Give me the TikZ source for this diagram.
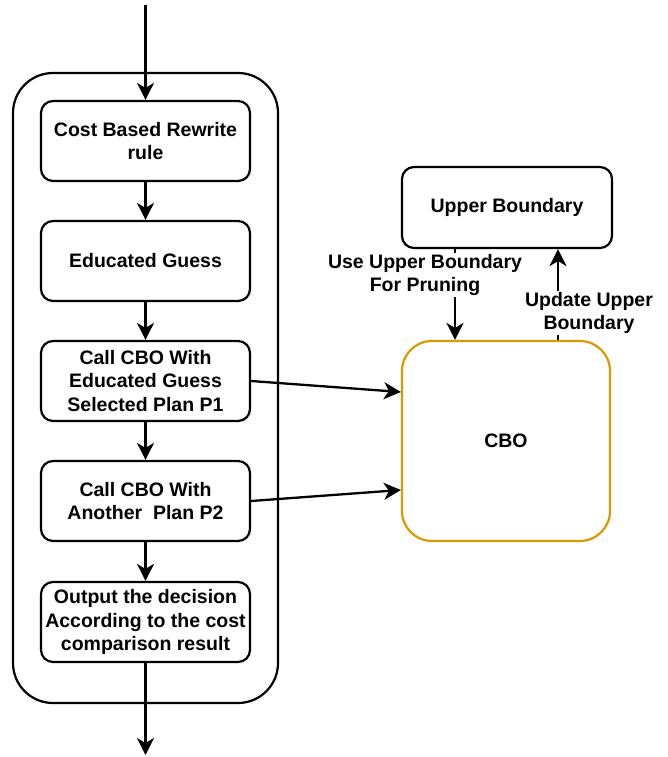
\documentclass[tikz,border=0pt]{standalone}
\usepackage{fontspec}
\setmainfont{Liberation Sans}
\usetikzlibrary{arrows.meta}
\definecolor{gold}{HTML}{D79B00}
\tikzset{
  box/.style={draw, line width=2.2pt, rounded corners=12pt, minimum width=209pt, minimum height=80pt, inner sep=0pt, align=center, font=\bfseries\fontsize{19.5}{23.5}\selectfont},
  lbl/.style={fill=white, inner sep=1pt, align=center, font=\bfseries\fontsize{19.5}{23.5}\selectfont},
  arr/.style={line width=2.3pt, -{Stealth[length=17pt,width=17pt,inset=5pt]}}
}
\begin{document}
\begin{tikzpicture}[x=1pt,y=-1pt]
\useasboundingbox (0,0) rectangle (667,757);
\node[draw, line width=2.2pt, rounded corners=40pt, minimum width=265pt, minimum height=630pt, inner sep=0pt] (grp) at (145.5,388) {};
\coordinate (top) at (145.5,5);
\coordinate (bot) at (145.5,755);
\node[box] (b1) at (145.5,141) {Cost Based Rewrite\\rule};
\node[box] (b2) at (145.5,261) {Educated Guess};
\node[box] (b3) at (145.5,381) {Call CBO With\\Educated Guess\\Selected Plan P1};
\node[box] (b4) at (145.5,501) {Call CBO With\\Another\ \ Plan P2};
\node[box] (b5) at (145.5,622) {Output the decision\\According to the cost\\comparison result};
\node[box, minimum width=210pt, minimum height=81pt] (ub) at (507,207.5) {Upper Boundary};
\node[box, draw=gold, rounded corners=30pt, minimum width=208pt, minimum height=200pt] (cbo) at (506,441) {CBO};
\draw[arr] (top) -- (b1);
\draw[arr] (b1) -- (b2);
\draw[arr] (b2) -- (b3);
\draw[arr] (b3) -- (b4);
\draw[arr] (b4) -- (b5);
\draw[arr] (b5) -- (bot);
\draw[arr] (b3.east) -- ([yshift=49pt]cbo.west);
\draw[arr] (b4.east) -- ([yshift=-49pt]cbo.west);
\draw[arr] ([xshift=-52pt]ub.south) -- ([xshift=-51pt]cbo.north);
\draw[arr] ([xshift=52pt]cbo.north) -- ([xshift=51pt]ub.south);
\node[lbl] (l1) at (425,275) {Use Upper Boundary\\For Pruning};
\node[lbl] (l2) at (589,313) {Update Upper\\Boundary};
\end{tikzpicture}
\end{document}
